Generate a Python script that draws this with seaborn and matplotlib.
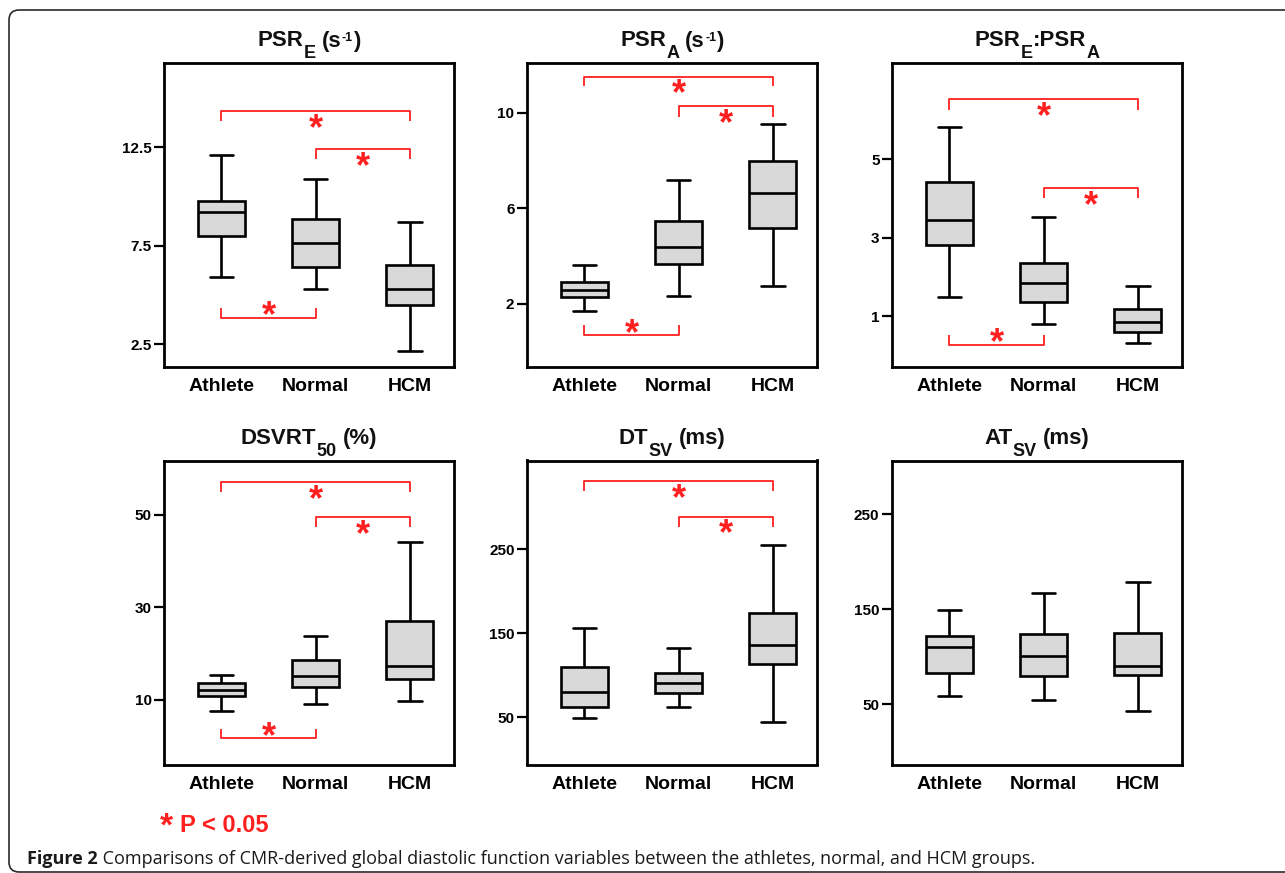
import numpy as np
import pandas as pd
import matplotlib
matplotlib.use("Agg")
import matplotlib.pyplot as plt
import matplotlib.text as mtext
from matplotlib.patches import FancyBboxPatch
from matplotlib.transforms import IdentityTransform
import seaborn as sns

# ---------------- data ----------------
groups = ["Athlete", "Normal", "HCM"]

# five-number summaries per group: [min, Q1, median, Q3, max]
psr_e_athlete = [5.9, 8.0, 9.2, 9.76, 12.1]
psr_e_normal = [5.3, 6.4, 7.62, 8.86, 10.9]
psr_e_hcm = [2.14, 4.5, 5.3, 6.5, 8.7]

psr_a_athlete = [1.72, 2.28, 2.59, 2.93, 3.64]
psr_a_normal = [2.32, 3.69, 4.39, 5.46, 7.17]
psr_a_hcm = [2.76, 5.18, 6.62, 7.99, 9.52]

ratio_athlete = [1.49, 2.82, 3.45, 4.41, 5.83]
ratio_normal = [0.81, 1.36, 1.85, 2.36, 3.52]
ratio_hcm = [0.32, 0.60, 0.86, 1.19, 1.78]

dsvrt_athlete = [7.5, 10.8, 12.0, 13.6, 15.25]
dsvrt_normal = [9.1, 12.7, 15.1, 18.5, 23.7]
dsvrt_hcm = [9.6, 14.5, 17.3, 26.9, 44.1]

dtsv_athlete = [48.4, 62.3, 79.5, 110.1, 156.0]
dtsv_normal = [62.3, 79.2, 90.4, 103.0, 132.8]
dtsv_hcm = [43.7, 113.6, 136.2, 173.9, 254.8]

atsv_athlete = [58.7, 83.3, 110.7, 121.9, 149.0]
atsv_normal = [54.2, 79.5, 100.5, 124.4, 167.2]
atsv_hcm = [43.3, 80.9, 90.3, 125.4, 178.7]

# title pieces: (text, kind) kind: n = normal, sub = subscript, sup = superscript
title_1 = [("PSR", "n"), ("E", "sub"), (" (s", "n"), ("-1", "sup"), (")", "n")]
title_2 = [("PSR", "n"), ("A", "sub"), (" (s", "n"), ("-1", "sup"), (")", "n")]
title_3 = [("PSR", "n"), ("E", "sub"), (":PSR", "n"), ("A", "sub")]
title_4 = [("DSVRT", "n"), ("50", "sub"), (" (%)", "n")]
title_5 = [("DT", "n"), ("SV", "sub"), (" (ms)", "n")]
title_6 = [("AT", "n"), ("SV", "sub"), (" (ms)", "n")]

yticks_1 = [2.5, 7.5, 12.5]
yticks_2 = [2, 6, 10]
yticks_3 = [1, 3, 5]
yticks_4 = [10, 30, 50]
yticks_5 = [50, 150, 250]
yticks_6 = [50, 150, 250]
ytick_labels_1 = ["2.5", "7.5", "12.5"]
ytick_labels_2 = ["2", "6", "10"]
ytick_labels_3 = ["1", "3", "5"]
ytick_labels_4 = ["10", "30", "50"]
ytick_labels_5 = ["50", "150", "250"]
ytick_labels_6 = ["50", "150", "250"]

# significance brackets: (group i, group j, bar level, end level)
sig_1 = [(0, 2, 14.35, 13.84), (1, 2, 12.4, 11.9), (0, 1, 3.84, 4.34)]
sig_2 = [(0, 2, 11.5, 11.11), (1, 2, 10.26, 9.84), (0, 1, 0.68, 1.1)]
sig_3 = [(0, 2, 6.53, 6.27), (1, 2, 4.26, 4.01), (0, 1, 0.26, 0.51)]
sig_4 = [(0, 2, 57.05, 54.9), (1, 2, 49.5, 47.3), (0, 1, 1.57, 3.7)]
sig_5 = [(0, 2, 330.7, 318.8), (1, 2, 288.9, 277.0)]
sig_6 = []

# ---------------- style ----------------
sns.set_theme(style="white")
plt.rcParams["font.family"] = ["Liberation Sans", "DejaVu Sans"]
plt.rcParams["font.weight"] = "bold"

RED = "#ff1f1f"
BOX = "#d9d9d9"

fig = plt.figure(figsize=(12.85, 8.73), dpi=100)
W, H = 1285, 873
renderer = fig.canvas.get_renderer()

panels = [
    ([psr_e_athlete, psr_e_normal, psr_e_hcm], (1.33, 16.8), yticks_1, ytick_labels_1, sig_1, title_1),
    ([psr_a_athlete, psr_a_normal, psr_a_hcm], (-0.64, 12.08), yticks_2, ytick_labels_2, sig_2, title_2),
    ([ratio_athlete, ratio_normal, ratio_hcm], (-0.30, 7.46), yticks_3, ytick_labels_3, sig_3, title_3),
    ([dsvrt_athlete, dsvrt_normal, dsvrt_hcm], (-4.06, 61.7), yticks_4, ytick_labels_4, sig_4, title_4),
    ([dtsv_athlete, dtsv_normal, dtsv_hcm], (-6.4, 355.7), yticks_5, ytick_labels_5, sig_5, title_5),
    ([atsv_athlete, atsv_normal, atsv_hcm], (-13.2, 306.4), yticks_6, ytick_labels_6, sig_6, title_6),
]

lefts = [164, 527, 892]
tops = [63, 460.5]
aw, ah = 290, 304

KIND = {"n": (16, 0.0), "sub": (13, -11.5), "sup": (9, 5.5)}


def draw_title(cx, base_y, pieces):
    """Compose a title from normal / sub / superscript pieces (pixel coords)."""
    items = []
    for s, kind in pieces:
        fs, dy = KIND[kind]
        lead = 0.0
        if s.startswith(" "):
            s = s.lstrip(" ")
            lead = 6.0
        t = fig.text(0, 0, s, fontsize=fs, fontweight="bold", ha="left",
                     va="baseline", color="#111111", transform=IdentityTransform())
        w = t.get_window_extent(renderer).width
        items.append((t, dy, lead, w))
    total = sum(lead + w for _, _, lead, w in items)
    x = cx - total / 2
    for t, dy, lead, w in items:
        x += lead
        t.set_position((x, base_y + dy))
        x += w


for k, (vals, ylim, yt, ytl, sigs, tpieces) in enumerate(panels):
    r, c = divmod(k, 3)
    ax = fig.add_axes([lefts[c] / W, 1 - (tops[r] + ah) / H, aw / W, ah / H])
    df = pd.DataFrame({
        "group": np.repeat(groups, 5),
        "value": np.concatenate(vals),
    })
    sns.boxplot(data=df, x="group", y="value", order=groups, ax=ax,
                color=BOX, width=0.5, whis=(0, 100), linewidth=1.9,
                linecolor="black", fliersize=0, saturation=1)
    ax.set_xlim(-0.61, 2.47)
    ax.set_ylim(*ylim)
    ax.set_yticks(yt)
    ax.set_yticklabels(ytl)
    ax.set_xlabel("")
    ax.set_ylabel("")
    ax.tick_params(axis="y", length=7, width=1.6, pad=2, labelsize=11,
                   direction="out", colors="black", left=True)
    ax.tick_params(axis="x", length=0, pad=8, labelsize=14, colors="black")
    for lab in ax.get_xticklabels() + ax.get_yticklabels():
        lab.set_fontweight("bold")
    for sp in ax.spines.values():
        sp.set_color("black")
        sp.set_linewidth(2)
        sp.set_visible(True)
    for (i, j, yb, ye) in sigs:
        ax.plot([i, i, j, j], [ye, yb, yb, ye], color=RED, lw=1.3,
                solid_capstyle="butt", zorder=5)
        off = -20 if ye < yb else -6
        ax.annotate("*", xy=((i + j) / 2, yb), xytext=(0, off),
                    textcoords="offset points", ha="center", va="baseline",
                    fontsize=26, color=RED, fontweight="bold", zorder=6)
    # title
    draw_title(lefts[c] + aw / 2, H - tops[r] + 16.5, tpieces)

# legend note
fig.text(160 / W, 1 - 836 / H, "*", color=RED, fontsize=24, fontweight="bold",
         ha="left", va="baseline")
fig.text(180 / W, 1 - 832 / H, "P < 0.05", color=RED, fontsize=17,
         fontweight="bold", ha="left", va="baseline")

# caption
t1 = fig.text(27 / W, 1 - 868 / H, "Figure 2", fontsize=13, fontweight="bold",
              family=["Open Sans", "DejaVu Sans"], ha="left", va="bottom",
              color="#1a1a1a")
ann = mtext.Annotation(
    " Comparisons of CMR-derived global diastolic function variables between the athletes, normal, and HCM groups.",
    xy=(1, 0), xycoords=t1, xytext=(0, 0), textcoords="offset points",
    ha="left", va="bottom", fontsize=13, fontweight="normal",
    family=["Open Sans", "DejaVu Sans"], color="#1a1a1a")
fig.add_artist(ann)

# rounded frame
frame = FancyBboxPatch((9, 1), 1320, 862, boxstyle="round,pad=0,rounding_size=10",
                       transform=IdentityTransform(), fill=False,
                       edgecolor="#2a2a2a", linewidth=1.2, clip_on=False)
fig.add_artist(frame)

fig.savefig("out.png", dpi=100)
